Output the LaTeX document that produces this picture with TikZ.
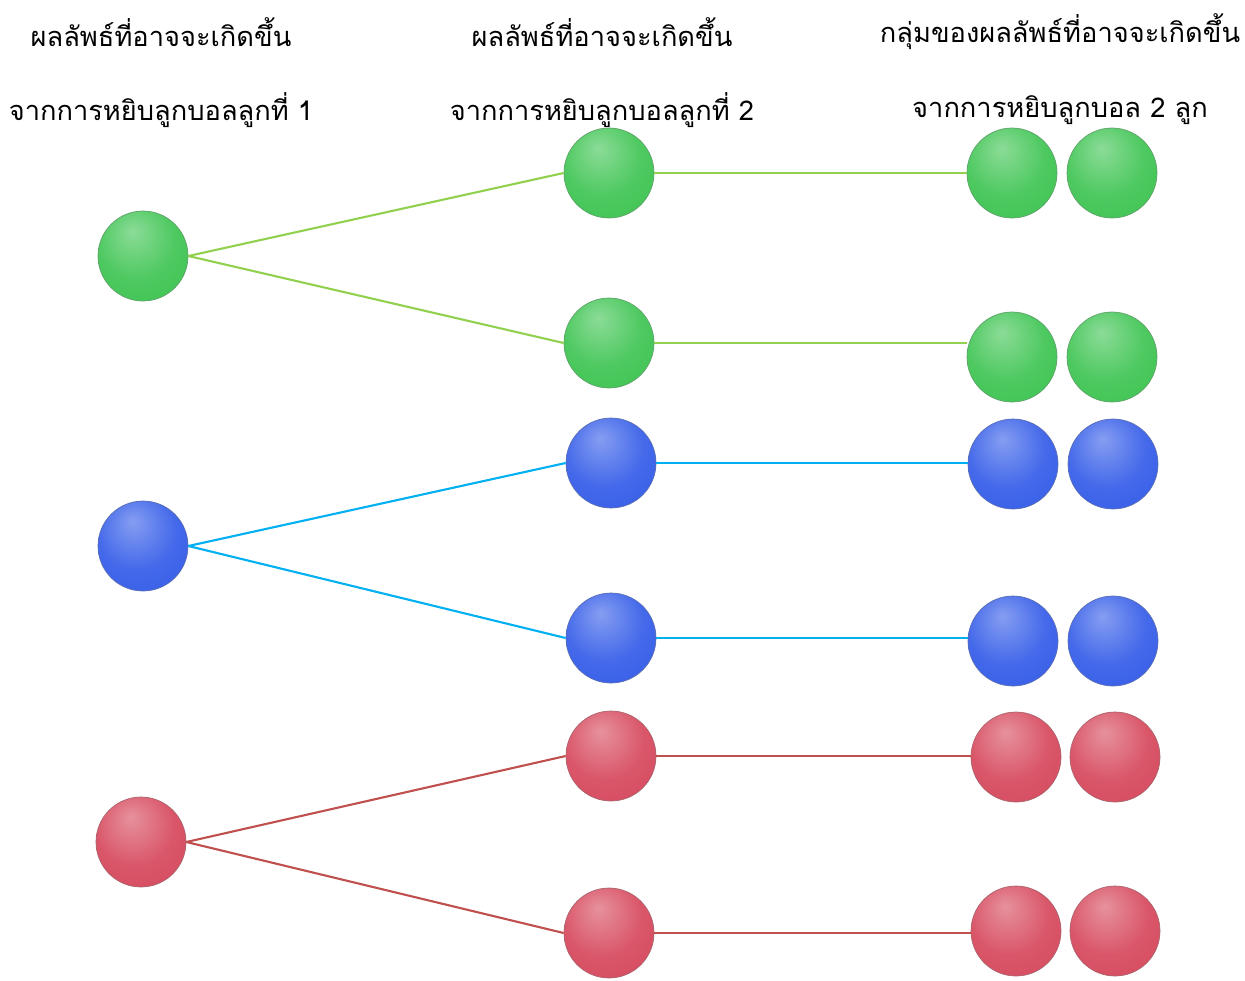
\documentclass[tikz,border=0pt]{standalone}
\usepackage{fontspec}
\newfontfamily\thaifont[Script=Thai]{Loma}
\definecolor{ballgreen}{RGB}{62,196,82}
\definecolor{ballblue}{RGB}{52,92,232}
\definecolor{ballred}{RGB}{214,72,92}
\definecolor{linegreen}{RGB}{146,208,80}
\definecolor{lineblue}{RGB}{0,176,240}
\definecolor{linered}{RGB}{192,80,77}
\pgfdeclareradialshading{gshade}{\pgfpoint{-6bp}{14bp}}{color(0bp)=(ballgreen!60!white); color(22bp)=(ballgreen!92!white); color(40bp)=(ballgreen); color(60bp)=(ballgreen!92!black)}
\pgfdeclareradialshading{bshade}{\pgfpoint{-6bp}{14bp}}{color(0bp)=(ballblue!60!white); color(22bp)=(ballblue!92!white); color(40bp)=(ballblue); color(60bp)=(ballblue!92!black)}
\pgfdeclareradialshading{rshade}{\pgfpoint{-6bp}{14bp}}{color(0bp)=(ballred!60!white); color(22bp)=(ballred!92!white); color(40bp)=(ballred); color(60bp)=(ballred!92!black)}
\tikzset{
  ball/.style={circle,minimum size=1.8cm,inner sep=0pt,line width=0.4pt},
  gball/.style={ball,shading=gshade,draw=ballgreen!50!gray},
  bball/.style={ball,shading=bshade,draw=ballblue!50!gray},
  rball/.style={ball,shading=rshade,draw=ballred!50!gray},
  heading/.style={font=\thaifont\fontsize{15.5}{18}\selectfont}
}
\begin{document}
\begin{tikzpicture}[x=0.02cm,y=-0.02cm]
\useasboundingbox (0,0) rectangle (1245,981);

% headings
\node[heading] (h1a) at (161,32) {ผลลัพธ์ที่อาจจะเกิดขึ้น};
\node[heading] (h1b) at (161,110) {จากการหยิบลูกบอลลูกที่ 1};
\node[heading] (h2a) at (602,32) {ผลลัพธ์ที่อาจจะเกิดขึ้น};
\node[heading] (h2b) at (602,110) {จากการหยิบลูกบอลลูกที่ 2};
\node[heading] (h3a) at (1060,32) {กลุ่มของผลลัพธ์ที่อาจจะเกิดขึ้น};
\node[heading] (h3b) at (1060,110) {จากการหยิบลูกบอล 2 ลูก};

% first ball
\node[gball] (g1) at (143,256) {};
\node[bball] (b1) at (143,546) {};
\node[rball] (r1) at (141,842) {};

% second ball
\node[gball] (gg2) at (609,173) {};
\node[gball] (gh2) at (609,343) {};
\node[bball] (bb2) at (611,463) {};
\node[bball] (bc2) at (611,638) {};
\node[rball] (rr2) at (611,756) {};
\node[rball] (rs2) at (609,933) {};

% pairs
\node[gball] (gga) at (1012,173) {};
\node[gball] (ggb) at (1112,173) {};
\node[gball] (gha) at (1012,357) {};
\node[gball] (ghb) at (1112,357) {};
\node[bball] (bba) at (1013,464) {};
\node[bball] (bbb) at (1113,464) {};
\node[bball] (bca) at (1013,641) {};
\node[bball] (bcb) at (1113,641) {};
\node[rball] (rra) at (1016,757) {};
\node[rball] (rrb) at (1115,757) {};
\node[rball] (rsa) at (1016,931) {};
\node[rball] (rsb) at (1115,931) {};

\draw[linegreen,line width=1.2pt] (g1.east) -- (gg2.west);
\draw[linegreen,line width=1.2pt] (g1.east) -- (gh2.west);
\draw[linegreen,line width=1.2pt] (gg2.east) -- (gg2.east -| gga.west);
\draw[linegreen,line width=1.2pt] (gh2.east) -- (gh2.east -| gha.west);

\draw[lineblue,line width=1.2pt] (b1.east) -- (bb2.west);
\draw[lineblue,line width=1.2pt] (b1.east) -- (bc2.west);
\draw[lineblue,line width=1.2pt] (bb2.east) -- (bb2.east -| bba.west);
\draw[lineblue,line width=1.2pt] (bc2.east) -- (bc2.east -| bca.west);

\draw[linered,line width=1.2pt] (r1.east) -- (rr2.west);
\draw[linered,line width=1.2pt] (r1.east) -- (rs2.west);
\draw[linered,line width=1.2pt] (rr2.east) -- (rr2.east -| rra.west);
\draw[linered,line width=1.2pt] (rs2.east) -- (rs2.east -| rsa.west);
\end{tikzpicture}
\end{document}
